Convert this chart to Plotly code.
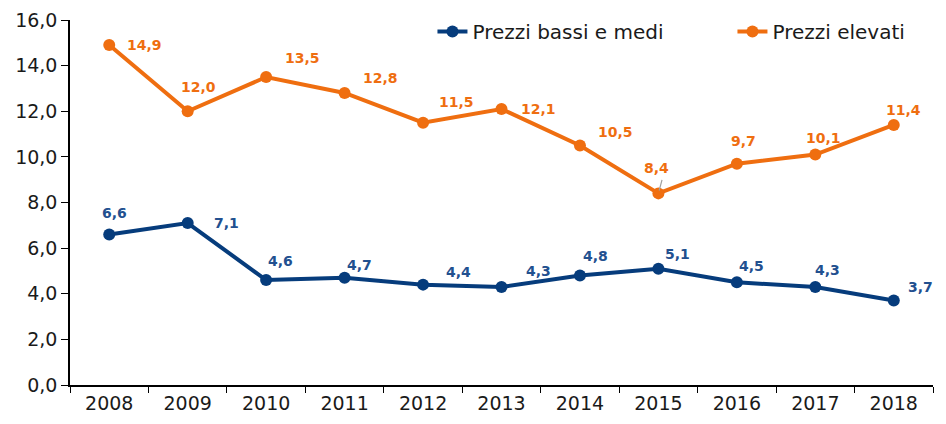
import plotly.graph_objects as go

years = ["2008", "2009", "2010", "2011", "2012", "2013", "2014", "2015", "2016", "2017", "2018"]
bassi_medi = [6.6, 7.1, 4.6, 4.7, 4.4, 4.3, 4.8, 5.1, 4.5, 4.3, 3.7]
elevati = [14.9, 12.0, 13.5, 12.8, 11.5, 12.1, 10.5, 8.4, 9.7, 10.1, 11.4]
y_ticks = [0, 2, 4, 6, 8, 10, 12, 14, 16]

BLUE = "#063C7C"
BLUE_LBL = "#22508F"
ORANGE = "#EF6E10"
FONT = "DejaVu Sans"

# label offsets in pixels (style only)
off_elev = [(35, 0), (11, -24), (36, -19), (36, -15), (33, -21), (37, 0), (36, -13), (-2, -25), (7, -23), (8, -17), (10, -15)]
off_bassi = [(5, -21), (39, 0), (14, -19), (15, -13), (35, -13), (37, -16), (16, -20), (19, -15), (15, -16), (12, -17), (27, -14)]

fig = go.Figure()
fig.add_trace(go.Scatter(x=years, y=bassi_medi, mode="lines+markers", name="Prezzi bassi e medi",
                         line=dict(color=BLUE, width=4), marker=dict(size=12, color=BLUE)))
fig.add_trace(go.Scatter(x=years, y=elevati, mode="lines+markers", name="Prezzi elevati",
                         line=dict(color=ORANGE, width=4), marker=dict(size=12, color=ORANGE)))

def fmt(v):
    return "<b>" + f"{v:.1f}".replace(".", ",") + "</b>"

annotations = []
for i, yr in enumerate(years):
    dx, dy = off_elev[i]
    annotations.append(dict(x=i, y=elevati[i], xref="x", yref="y", text=fmt(elevati[i]), showarrow=False,
                            xshift=dx, yshift=-dy, font=dict(color=ORANGE, size=14, family=FONT)))
    dx, dy = off_bassi[i]
    annotations.append(dict(x=i, y=bassi_medi[i], xref="x", yref="y", text=fmt(bassi_medi[i]), showarrow=False,
                            xshift=dx, yshift=-dy, font=dict(color=BLUE_LBL, size=14, family=FONT)))

# leader line for the 2015 orange label
annotations.append(dict(x=7, y=elevati[7], xref="x", yref="y", ax=4, ay=-15, text="", showarrow=True,
                        arrowhead=0, arrowwidth=1.2, arrowcolor="#A0A0A0", standoff=3))

fig.update_layout(
    width=938, height=416,
    margin=dict(l=62, r=13, t=12, b=39, autoexpand=False),
    plot_bgcolor="white", paper_bgcolor="white",
    separators=", ",
    font=dict(family=FONT, color="#1A1A1A", size=18),
    annotations=annotations,
    showlegend=True,
    legend=dict(orientation="h", x=0.42, xanchor="left", y=1.022, yanchor="top",
                font=dict(size=20, family=FONT, color="#1A1A1A"),
                entrywidth=255, entrywidthmode="pixels",
                bgcolor="rgba(0,0,0,0)"),
    xaxis=dict(type="category", range=[-0.5, 10.5], showline=True, linecolor="black", linewidth=1.5,
               ticks="outside", tickson="boundaries", ticklen=6, tickcolor="black", showgrid=False,
               tickfont=dict(size=19), automargin=False),
    yaxis=dict(range=[0, 16], tickvals=y_ticks, tickformat=".1f", showline=True, linecolor="black",
               linewidth=1.5, ticks="outside", ticklen=7, tickcolor="black", showgrid=False,
               tickfont=dict(size=19), zeroline=False, automargin=False),
)

fig.write_html("out.html")
